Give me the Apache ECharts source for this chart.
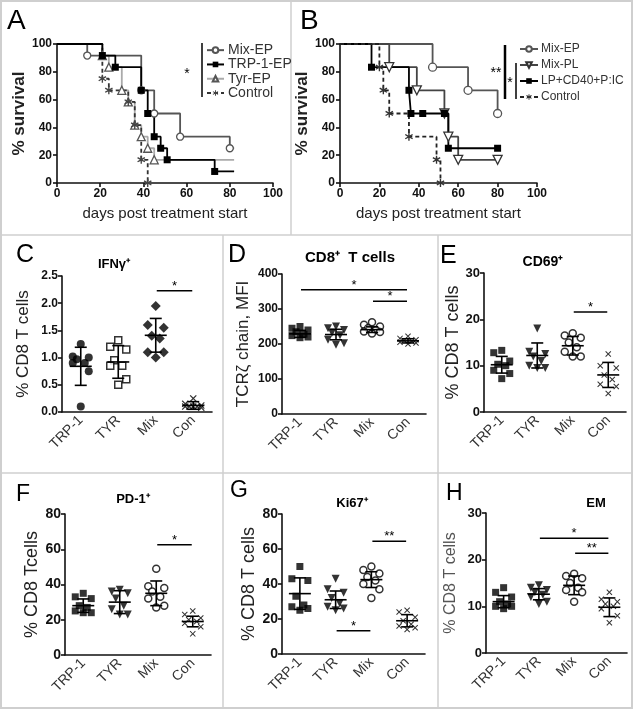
<!DOCTYPE html>
<html><head><meta charset="utf-8">
<script src="https://cdn.jsdelivr.net/npm/echarts@6/dist/echarts.min.js"></script>
<style>html,body{margin:0;padding:0;background:#fff}#c{width:634px;height:710px}</style>
</head><body><div id="c"></div>
<script>
const FONT = "'Liberation Sans', Arial, Helvetica, sans-serif";

// ---------- Panel A: survival ----------
const survTicks = [0, 20, 40, 60, 80, 100];
const aStudyEnd = 82;
const aMixEpDays = [0, 14, 39, 45, 57, 80];
const aMixEpSurv = [100, 91.7, 66.7, 50, 33.3, 25];
const aTrpEpDays = [0, 21, 27, 39, 42, 45, 48, 51, 73];
const aTrpEpSurv = [100, 91.7, 83.3, 66.7, 50, 33.3, 25, 16.7, 8.3];
const aTyrEpDays = [0, 21, 24, 30, 33, 36, 39, 42, 45];
const aTyrEpSurv = [100, 91.7, 83.3, 66.7, 58.3, 41.7, 33.3, 25, 16.7];
const aCtrlDays = [0, 21, 24, 33, 36, 39, 42];
const aCtrlSurv = [100, 75, 66.7, 58.3, 41.7, 16.7, 0];

// ---------- Panel B: survival ----------
const bMixEpDays = [0, 47, 65, 80];
const bMixEpSurv = [100, 83.3, 66.7, 50];
const bMixPlDays = [0, 25, 39, 53, 55, 60, 80];
const bMixPlSurv = [100, 83.3, 66.7, 50, 33.3, 16.7, 16.7];
const bLpDays = [0, 16, 35, 36, 42, 53, 55, 80];
const bLpSurv = [100, 83.3, 66.7, 50, 50, 50, 25, 25];
const bCtrlDays = [0, 20, 22, 25, 35, 49, 51];
const bCtrlSurv = [100, 83.3, 66.7, 50, 33.3, 16.7, 0];

// ---------- Scatter panels ----------
const groups = ['TRP-1', 'TYR', 'Mix', 'Con'];

// C: IFNγ+
const cTicks = [0, 0.5, 1.0, 1.5, 2.0, 2.5];
const cTrp = [1.25, 1.02, 1.0, 0.97, 0.9, 0.9, 0.75, 0.1];
const cTyr = [1.32, 1.2, 1.15, 0.95, 0.85, 0.85, 0.6, 0.5];
const cMix = [1.95, 1.6, 1.55, 1.4, 1.35, 1.1, 1.1, 1.0];
const cCon = [0.25, 0.15, 0.12, 0.1, 0.1, 0.1, 0.08, 0.1];
const cMean = [0.84, 0.92, 1.41, 0.12];
const cSd = [0.35, 0.30, 0.31, 0.07];
const cSig = [[2, 3, 2.23, '*']];

// D: CD8+ T cells, TCRζ MFI
const dTicks = [0, 100, 200, 300, 400];
const dTrp = [250, 245, 240, 235, 228, 224, 220, 218];
const dTyr = [250, 245, 240, 232, 225, 212, 202, 198];
const dMix = [262, 255, 250, 245, 240, 236, 234, 230];
const dCon = [222, 216, 212, 210, 208, 205, 203, 200];
const dMean = [229, 227, 241, 209];
const dSd = [10, 15, 8, 6];
const dSig = [[0, 3, 355, '*'], [2, 3, 322, '*']];

// E: CD69+
const eTicks = [0, 10, 20, 30];
const eTrp = [13.3, 12.8, 11.0, 10.3, 10.0, 9.0, 8.3, 7.2];
const eTyr = [18, 13, 12.5, 12, 11, 10, 9.5, 9.5];
const eMix = [17, 16.5, 16, 15, 14, 13, 12, 12];
const eCon = [12.5, 10, 9.5, 8, 7, 6, 5.5, 4];
const eMean = [10.2, 12.2, 14.3, 8.0];
const eSd = [1.8, 2.7, 2.0, 2.7];
const eSig = [[2, 3, 21.6, '*']];

// F: PD-1+
const fTicks = [0, 20, 40, 60, 80];
const fTrp = [35, 33, 32, 28, 27, 25, 24, 24];
const fTyr = [37, 36, 35, 32, 28, 26, 23, 23];
const fMix = [49, 39, 38, 36, 33, 32, 28, 27];
const fCon = [25, 23, 21, 20, 19, 18, 16, 12];
const fMean = [28, 30, 35, 19];
const fSd = [3.8, 6.5, 7, 3];
const fSig = [[2, 3, 62.6, '*']];

// G: Ki67+
const gTicks = [0, 20, 40, 60, 80];
const gTrp = [50, 43, 42, 33, 28, 27, 26, 25];
const gTyr = [43, 37, 35, 32, 29, 27, 26, 25];
const gMix = [50, 48, 46, 44, 42, 40, 37, 32];
const gCon = [25, 24, 21, 19, 17, 16, 15, 14];
const gMean = [34.5, 31, 42.5, 19];
const gSd = [9, 5, 4.5, 3.5];
const gSig = [[2, 3, 64.4, '**'], [1, 2, 13.3, '*']];

// H: EM
const hTicks = [0, 10, 20, 30];
const hTrp = [14, 13, 12, 11, 10.5, 10, 10, 9.5];
const hTyr = [14.5, 14, 13.5, 13, 12.5, 12, 11, 10.5];
const hMix = [17, 16.5, 16, 15, 14, 13.5, 13, 11];
const hCon = [13, 11.5, 11, 10.5, 10, 9.5, 8, 6.5];
const hMean = [11, 12.6, 14.5, 9.8];
const hSd = [1.3, 1.2, 2, 2];
const hSig = [[1, 3, 24.6, '*'], [2, 3, 21.4, '**']];

// ---------------------------------------------------------------
const X_PATH = 'path://M0,1.2L1.2,0L5,3.8L8.8,0L10,1.2L6.2,5L10,8.8L8.8,10L5,6.2L1.2,10L0,8.8L3.8,5Z';
const STAR_PATH = 'path://M4.2,0H5.8V3.4L8.9,1.6L9.7,3L6.6,4.9L9.7,6.8L8.9,8.2L5.8,6.4V10H4.2V6.4L1.1,8.2L0.3,6.8L3.4,4.9L0.3,3L1.1,1.6L4.2,3.4Z';
const JITTER = [0, -8, 8, -4, 4, -8, 8, 0];
const AX = '#111';

const grids = [], xAxes = [], yAxes = [], series = [];

function kmData(days, surv, endDay) {
  const d = days.map((t, i) => i === 0 ? { value: [t, surv[i]], symbol: 'none' } : [t, surv[i]]);
  if (endDay != null) d.push({ value: [endDay, surv[surv.length - 1]], symbol: 'none' });
  return d;
}

function kmPanel(grid, xName) {
  const gi = grids.length;
  grids.push(grid);
  const lab = { color: AX, fontWeight: 'bold', fontSize: 12, fontFamily: FONT, margin: 5 };
  xAxes.push({
    gridIndex: gi, type: 'value', min: survTicks[0], max: survTicks[survTicks.length - 1],
    interval: survTicks[1] - survTicks[0],
    axisLine: { onZero: false, lineStyle: { color: AX, width: 1.6 } },
    axisTick: { length: 4, lineStyle: { color: AX, width: 1.6 } },
    splitLine: { show: false }, axisLabel: lab,
    name: xName, nameLocation: 'middle', nameGap: 23,
    nameTextStyle: { fontSize: 15, color: '#222', fontFamily: FONT }
  });
  yAxes.push({
    gridIndex: gi, type: 'value', min: survTicks[0], max: survTicks[survTicks.length - 1],
    interval: survTicks[1] - survTicks[0],
    axisLine: { onZero: false, lineStyle: { color: AX, width: 1.6 } },
    axisTick: { length: 4, lineStyle: { color: AX, width: 1.6 } },
    splitLine: { show: false }, axisLabel: lab,
    name: '% survival', nameLocation: 'middle', nameGap: 21,
    nameTextStyle: { fontSize: 17, fontWeight: 'bold', color: '#222', fontFamily: FONT }
  });
  return gi;
}

function kmSeries(gi, name, data, sym, symSize, itemStyle, lineColor, dashed, rot) {
  series.push({
    type: 'line', name, xAxisIndex: gi, yAxisIndex: gi, step: 'end', data,
    symbol: sym, symbolSize: symSize, symbolRotate: rot || 0, showAllSymbol: true,
    itemStyle, lineStyle: { color: lineColor, width: 1.8, type: dashed ? [4, 3] : 'solid' },
    emphasis: { disabled: true }, z: 3
  });
}

// Panel A
const ga = kmPanel({ left: 57, top: 44, width: 216, height: 139 }, 'days post treatment start');
kmSeries(ga, 'Tyr-EP', kmData(aTyrEpDays, aTyrEpSurv, aStudyEnd), 'triangle', 8,
  { color: '#fff', borderColor: '#555', borderWidth: 1.3 }, '#aaa', false);
kmSeries(ga, 'Control', kmData(aCtrlDays, aCtrlSurv, null), STAR_PATH, 8,
  { color: '#444', borderColor: '#444', borderWidth: 0 }, '#333', true);
kmSeries(ga, 'Mix-EP', kmData(aMixEpDays, aMixEpSurv, aStudyEnd), 'circle', 7,
  { color: '#fff', borderColor: '#555', borderWidth: 1.3 }, '#555', false);
kmSeries(ga, 'TRP-1-EP', kmData(aTrpEpDays, aTrpEpSurv, aStudyEnd), 'rect', 7,
  { color: '#000', borderColor: '#000', borderWidth: 0 }, '#000', false);

// Panel B
const gb = kmPanel({ left: 340, top: 44, width: 197, height: 139 }, 'days post treatment start');
kmSeries(gb, 'Mix-EP ', kmData(bMixEpDays, bMixEpSurv, null), 'circle', 8,
  { color: '#fff', borderColor: '#555', borderWidth: 1.3 }, '#555', false);
kmSeries(gb, 'Mix-PL', kmData(bMixPlDays, bMixPlSurv, null), 'triangle', 9,
  { color: '#fff', borderColor: '#333', borderWidth: 1.3 }, '#444', false, 180);
kmSeries(gb, 'LP+CD40+P:IC', kmData(bLpDays, bLpSurv, null), 'rect', 7,
  { color: '#000', borderColor: '#000', borderWidth: 0 }, '#000', false);
kmSeries(gb, 'Control ', kmData(bCtrlDays, bCtrlSurv, null), STAR_PATH, 8,
  { color: '#333', borderColor: '#333', borderWidth: 0 }, '#222', true);

// ---------- Scatter panel builder ----------
function errorItem(params, api) {
  const x = api.value(0), m = api.value(1), s = api.value(2);
  const pm = api.coord([x, m]), ph = api.coord([x, m + s]), pl = api.coord([x, Math.max(m - s, 0)]);
  const st = { stroke: '#000', lineWidth: 1.6 };
  return {
    type: 'group', children: [
      { type: 'line', shape: { x1: pm[0] - 11, y1: pm[1], x2: pm[0] + 11, y2: pm[1] }, style: st },
      { type: 'line', shape: { x1: pm[0], y1: ph[1], x2: pm[0], y2: pl[1] }, style: st },
      { type: 'line', shape: { x1: pm[0] - 6, y1: ph[1], x2: pm[0] + 6, y2: ph[1] }, style: st },
      { type: 'line', shape: { x1: pm[0] - 6, y1: pl[1], x2: pm[0] + 6, y2: pl[1] }, style: st }
    ]
  };
}
function makeSigItem(sig) {
  return function (params, api) {
    const a = api.coord([api.value(0), api.value(2)]);
    const b = api.coord([api.value(1), api.value(2)]);
    return {
      type: 'group', children: [
        { type: 'line', shape: { x1: a[0] + 1, y1: a[1], x2: b[0] - 1, y2: b[1] }, style: { stroke: '#000', lineWidth: 1.5 } },
        { type: 'text', style: { x: (a[0] + b[0]) / 2, y: a[1] + 2, text: sig[params.dataIndex][3], align: 'center', verticalAlign: 'bottom', fontSize: 13, fontFamily: FONT, fill: '#000' } }
      ]
    };
  };
}

function scatterPanel(grid, ticks, yName, nameGap, nameSize, nameColor, tickSize, decimals, vals, styles, mean, sd, sig) {
  const gi = grids.length;
  grids.push(grid);
  xAxes.push({
    gridIndex: gi, type: 'category', data: groups, boundaryGap: true,
    axisLine: { lineStyle: { color: AX, width: 1.6 } },
    axisTick: { alignWithLabel: true, length: 4, lineStyle: { color: AX, width: 1.6 } },
    axisLabel: { rotate: 45, interval: 0, fontSize: 14, color: '#333', fontFamily: FONT, margin: 6 },
    splitLine: { show: false }
  });
  yAxes.push({
    gridIndex: gi, type: 'value', min: ticks[0], max: ticks[ticks.length - 1], interval: ticks[1] - ticks[0],
    axisLine: { show: true, lineStyle: { color: AX, width: 1.6 } },
    axisTick: { show: true, length: 4, lineStyle: { color: AX, width: 1.6 } },
    splitLine: { show: false },
    axisLabel: { color: AX, fontWeight: 'bold', fontSize: tickSize, fontFamily: FONT, margin: 4,
      formatter: v => v.toFixed(decimals) },
    name: yName, nameLocation: 'middle', nameGap,
    nameTextStyle: { fontSize: nameSize, color: nameColor, fontFamily: FONT }
  });
  vals.forEach((arr, g) => {
    series.push({
      type: 'scatter', xAxisIndex: gi, yAxisIndex: gi,
      data: arr.map((v, i) => ({ value: [g, v], symbolOffset: [JITTER[i % JITTER.length], 0] })),
      symbol: styles[g].symbol, symbolSize: styles[g].size, symbolRotate: styles[g].rot || 0,
      itemStyle: styles[g].item, emphasis: { disabled: true }, z: 2
    });
  });
  series.push({
    type: 'custom', xAxisIndex: gi, yAxisIndex: gi, renderItem: errorItem,
    data: mean.map((m, i) => [i, m, sd[i]]), encode: { x: 0, y: 1 }, z: 4, silent: true
  });
  series.push({
    type: 'custom', xAxisIndex: gi, yAxisIndex: gi, renderItem: makeSigItem(sig),
    data: sig.map(s => [s[0], s[1], s[2]]), encode: { x: [0, 1], y: 2 }, z: 4, silent: true
  });
}

const black = { color: '#000', borderColor: '#000', borderWidth: 0 };
const openB = { color: '#fff', borderColor: '#000', borderWidth: 1.5 };
const stylesC = [
  { symbol: 'circle', size: 8, item: black },
  { symbol: 'rect', size: 7, item: openB },
  { symbol: 'diamond', size: 10, item: black },
  { symbol: X_PATH, size: 7, item: black }
];
const stylesStd = [
  { symbol: 'rect', size: 7, item: black },
  { symbol: 'triangle', size: 8, rot: 180, item: black },
  { symbol: 'circle', size: 7, item: openB },
  { symbol: X_PATH, size: 6, item: black }
];

scatterPanel({ left: 62, top: 276, width: 150, height: 136 }, cTicks, '% CD8 T cells', 30, 17, '#222', 12, 1,
  [cTrp, cTyr, cMix, cCon], stylesC, cMean, cSd, cSig);
scatterPanel({ left: 282, top: 274, width: 144, height: 140 }, dTicks, 'TCRζ chain, MFI', 30, 17, '#222', 12, 0,
  [dTrp, dTyr, dMix, dCon], stylesStd, dMean, dSd, dSig);
scatterPanel({ left: 484, top: 273, width: 142, height: 139 }, eTicks, '% CD8 T cells', 18, 18, '#222', 13, 0,
  [eTrp, eTyr, eMix, eCon], stylesStd, eMean, eSd, eSig);
scatterPanel({ left: 65, top: 514, width: 146, height: 141 }, fTicks, '% CD8 Tcells', 23, 18, '#222', 14, 0,
  [fTrp, fTyr, fMix, fCon], stylesStd, fMean, fSd, fSig);
scatterPanel({ left: 282, top: 514, width: 143, height: 140 }, gTicks, '% CD8 T cells', 21, 18, '#222', 14, 0,
  [gTrp, gTyr, gMix, gCon], stylesStd, gMean, gSd, gSig);
scatterPanel({ left: 486, top: 513, width: 141, height: 140 }, hTicks, '% CD8 T cells', 27, 16, '#555', 13, 0,
  [hTrp, hTyr, hMix, hCon], stylesStd, hMean, hSd, hSig);

// ---------- Graphics: borders, letters, titles, legend brackets ----------
const BORDER = '#cfcfcf';
function gline(x1, y1, x2, y2, color, w) {
  return { type: 'line', silent: true, shape: { x1, y1, x2, y2 }, style: { stroke: color, lineWidth: w } };
}
function gtext(x, y, text, size, weight, align, color) {
  return { type: 'text', silent: true, x, y, style: { text, fontSize: size, fontWeight: weight || 'normal', fontFamily: FONT, fill: color || '#000', align: align || 'left', verticalAlign: 'middle' } };
}
const elements = [
  { type: 'rect', silent: true, shape: { x: 1, y: 1, width: 631, height: 707 }, style: { fill: 'none', stroke: BORDER, lineWidth: 2 } },
  gline(291, 1, 291, 235, BORDER, 1.5),
  gline(1, 235, 633, 235, BORDER, 1.5),
  gline(1, 473, 633, 473, BORDER, 1.5),
  gline(223, 235, 223, 709, BORDER, 1.5),
  gline(438, 235, 438, 709, BORDER, 1.5),
  gtext(7, 21, 'A', 28), gtext(300, 21, 'B', 28),
  gtext(16, 255, 'C', 25), gtext(228, 255, 'D', 25), gtext(440, 256, 'E', 25),
  gtext(16, 495, 'F', 23), gtext(230, 491, 'G', 23), gtext(446, 494, 'H', 23),
  gtext(114, 264, 'IFNγ⁺', 13, 'bold', 'center'),
  gtext(350, 258, 'CD8⁺  T cells', 15, 'bold', 'center'),
  gtext(543, 262, 'CD69⁺', 14, 'bold', 'center'),
  gtext(133, 499, 'PD-1⁺', 13, 'bold', 'center'),
  gtext(352, 503, 'Ki67⁺', 13, 'bold', 'center'),
  gtext(596, 503, 'EM', 13, 'bold', 'center'),
  // legend A bracket
  gline(202, 43, 202, 97, '#000', 1.5),
  gtext(187, 74, '*', 14, 'normal', 'center'),
  // legend B brackets
  gline(505, 45, 505, 99, '#000', 2.5),
  gtext(496, 73, '**', 14, 'normal', 'center'),
  gline(516, 63, 516, 99, '#000', 1.5),
  gtext(510, 83, '*', 14, 'normal', 'center')
];

const option = {
  animation: false,
  backgroundColor: '#fff',
  textStyle: { fontFamily: FONT },
  grid: grids.map(g => Object.assign({ containLabel: false }, g)),
  xAxis: xAxes, yAxis: yAxes, series,
  legend: [
    { data: ['Mix-EP', 'TRP-1-EP', 'Tyr-EP', 'Control'], orient: 'vertical', left: 206, top: 43,
      itemWidth: 17, itemHeight: 7, itemGap: 0, padding: 0, selectedMode: false,
      textStyle: { fontSize: 14, color: '#333', fontFamily: FONT, lineHeight: 14.3, padding: [0, 0, 0, -1] } },
    { data: ['Mix-EP ', 'Mix-PL', 'LP+CD40+P:IC', 'Control '], orient: 'vertical', left: 519, top: 42,
      itemWidth: 18, itemHeight: 7, itemGap: 2, padding: 0, selectedMode: false,
      textStyle: { fontSize: 12, color: '#333', fontFamily: FONT, lineHeight: 14, padding: [0, 0, 0, -2] } }
  ],
  graphic: { elements }
};

const chart = echarts.init(document.getElementById('c'), null, { renderer: 'canvas' });
chart.setOption(option);
</script>
</body></html>
